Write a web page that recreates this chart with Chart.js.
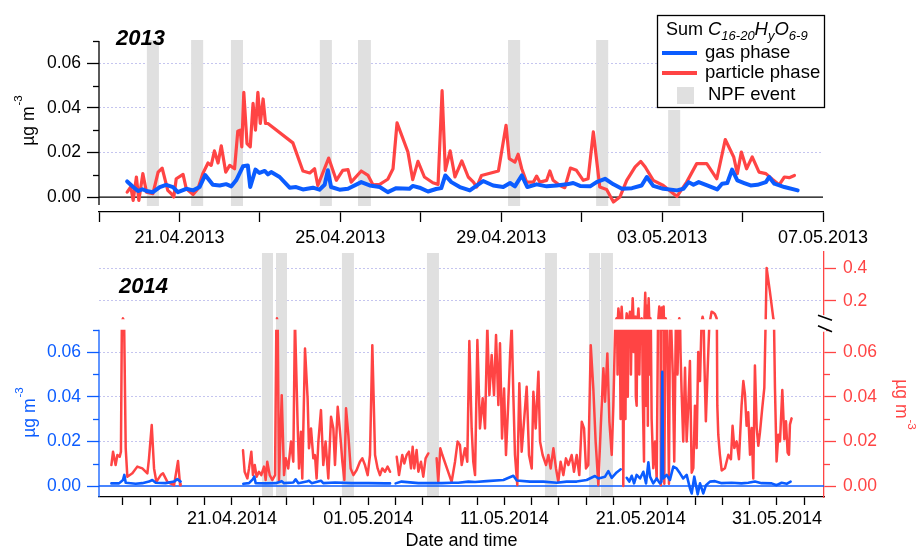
<!DOCTYPE html>
<html>
<head>
<meta charset="utf-8">
<title>Sum C16-20HyO6-9, gas and particle phase</title>
<script src="https://cdn.jsdelivr.net/npm/chart.js@4.4.1/dist/chart.umd.min.js"></script>
<style>
  html, body { margin: 0; padding: 0; background: #fff; }
  .panel { position: absolute; left: 0; }
</style>
</head>
<body>
<canvas id="chart2013" class="panel" width="917" height="250" style="top:0"></canvas>
<canvas id="chart2014" class="panel" width="917" height="298" style="top:250px"></canvas>
<script>
// --- 2013 campaign, x in days since 19.04.2013 00:00 ---
const origin2013 = Date.UTC(2013, 3, 19);
const xLabels2013 = ['21.04.2013', '25.04.2013', '29.04.2013', '03.05.2013', '07.05.2013'];

const gasDays2013 = [0.70, 0.85, 0.97, 1.08, 1.18, 1.34, 1.51, 1.67, 1.84, 1.96, 2.17, 2.34, 2.50, 2.64, 2.83, 3.00,
  3.16, 3.29, 3.41, 3.58, 3.70, 3.76, 3.89, 3.99, 4.12, 4.20, 4.28, 4.49, 4.74, 4.90, 5.07, 5.32, 5.48, 5.61, 5.69,
  5.77, 5.98, 6.19, 6.52, 6.73, 6.98, 7.18, 7.39, 7.72, 7.80, 7.97, 8.18, 8.38, 8.51, 8.61, 8.76, 8.97, 9.22, 9.55,
  9.80, 10.05, 10.22, 10.34, 10.51, 10.65, 10.88, 11.13, 11.38, 11.63, 11.79, 11.96, 12.21, 12.37, 12.58, 12.79,
  13.00, 13.25, 13.49, 13.62, 13.78, 14.03, 14.37, 14.53, 14.66, 14.78, 14.91, 15.12, 15.37, 15.49, 15.62, 15.74,
  15.87, 16.04, 16.20, 16.37, 16.58, 16.66, 16.79, 17.04, 17.37];
const gas2013 = [0.0070, 0.0045, 0.0027, 0.0035, 0.0027, 0.0022, 0.0045, 0.0055, 0.0045, 0.0022, 0.0037, 0.0030,
  0.0045, 0.0099, 0.0055, 0.0052, 0.0058, 0.0048, 0.0075, 0.0138, 0.0142, 0.0045, 0.0123, 0.0108, 0.0117, 0.0102,
  0.0112, 0.0090, 0.0042, 0.0045, 0.0034, 0.0042, 0.0033, 0.0055, 0.0120, 0.0045, 0.0033, 0.0037, 0.0067, 0.0052,
  0.0045, 0.0022, 0.0040, 0.0037, 0.0050, 0.0042, 0.0025, 0.0036, 0.0040, 0.0097, 0.0067, 0.0045, 0.0030, 0.0072,
  0.0052, 0.0045, 0.0063, 0.0048, 0.0097, 0.0045, 0.0057, 0.0048, 0.0052, 0.0057, 0.0063, 0.0050, 0.0048, 0.0067,
  0.0082, 0.0057, 0.0037, 0.0040, 0.0052, 0.0090, 0.0050, 0.0037, 0.0030, 0.0037, 0.0067, 0.0055, 0.0067, 0.0052,
  0.0034, 0.0060, 0.0063, 0.0123, 0.0075, 0.0063, 0.0052, 0.0055, 0.0067, 0.0090, 0.0060, 0.0045, 0.0030];

const particleDays2013 = [0.70, 0.79, 0.85, 0.93, 0.99, 1.09, 1.18, 1.34, 1.47, 1.57, 1.71, 1.80, 1.86, 1.92, 2.09,
  2.17, 2.34, 2.46, 2.58, 2.71, 2.79, 2.87, 2.96, 3.04, 3.15, 3.25, 3.37, 3.45, 3.51, 3.55, 3.60, 3.68, 3.76, 3.83,
  3.89, 3.95, 4.01, 4.08, 4.14, 4.20, 4.82, 5.07, 5.24, 5.36, 5.44, 5.71, 5.90, 6.06, 6.19, 6.27, 6.52, 6.69, 6.81,
  6.98, 7.18, 7.31, 7.41, 7.68, 7.80, 7.93, 8.09, 8.30, 8.43, 8.53, 8.61, 8.73, 8.85, 9.02, 9.18, 9.31, 9.39, 9.51,
  9.93, 10.12, 10.20, 10.34, 10.42, 10.51, 10.63, 10.80, 10.88, 10.96, 11.13, 11.21, 11.29, 11.46, 11.58, 11.72,
  11.87, 12.04, 12.16, 12.29, 12.45, 12.62, 12.79, 12.95, 13.12, 13.33, 13.47, 13.58, 13.78, 14.03, 14.37, 14.61,
  14.86, 15.11, 15.36, 15.57, 15.78, 15.87, 15.97, 16.10, 16.24, 16.41, 16.58, 16.74, 16.91, 17.04, 17.16, 17.29];
const particle2013 = [0.0022, 0.0045, -0.0015, 0.0090, -0.0015, 0.0105, 0.0022, 0.0015, 0.0112, 0.0130, 0.0030,
  0.0015, 0.0000, 0.0082, 0.0102, 0.0037, 0.0012, 0.0037, 0.0105, 0.0153, 0.0142, 0.0207, 0.0153, 0.0230, 0.0112,
  0.0142, 0.0127, 0.0295, 0.0300, 0.0225, 0.0470, 0.0240, 0.0225, 0.0420, 0.0300, 0.0470, 0.0330, 0.0440, 0.0330,
  0.0330, 0.0243, 0.0117, 0.0108, 0.0127, 0.0052, 0.0175, 0.0075, 0.0120, 0.0123, 0.0067, 0.0117, 0.0097, 0.0055,
  0.0057, 0.0080, 0.0127, 0.0333, 0.0202, 0.0078, 0.0160, 0.0090, 0.0064, 0.0057, 0.0477, 0.0120, 0.0207, 0.0090,
  0.0162, 0.0090, 0.0067, 0.0045, 0.0097, 0.0117, 0.0322, 0.0172, 0.0157, 0.0192, 0.0127, 0.0067, 0.0067, 0.0094,
  0.0067, 0.0075, 0.0117, 0.0075, 0.0052, 0.0042, 0.0130, 0.0120, 0.0075, 0.0082, 0.0292, 0.0045, 0.0034, -0.0022,
  0.0000, 0.0075, 0.0135, 0.0160, 0.0135, 0.0075, 0.0052, 0.0003, 0.0067, 0.0150, 0.0150, 0.0082, 0.0258, 0.0180,
  0.0105, 0.0202, 0.0127, 0.0180, 0.0112, 0.0105, 0.0080, 0.0055, 0.0090, 0.0087, 0.0097];

const npfStart2013 = [1.19, 2.29, 3.28, 5.49, 6.44, 10.17, 12.36, 14.15];
const npfEnd2013 = [1.49, 2.59, 3.58, 5.79, 6.76, 10.47, 12.66, 14.45];

// --- 2014 campaign, x in days since 11.04.2014 00:00 (null = no data) ---
const origin2014 = Date.UTC(2014, 3, 11);
const xLabels2014 = ['21.04.2014', '01.05.2014', '11.05.2014', '21.05.2014', '31.05.2014'];

const gasDays2014 = [1.15, 1.71, 2.00, 2.10, 2.20, 2.93, 3.42, 3.91, 4.15, 4.40, 5.13, 5.75, 5.99, 6.23, 8.0,
  10.83, 11.25, 11.54, 11.64, 11.74, 12.47, 13.21, 13.65, 13.82, 14.50, 14.67, 14.87, 15.48, 15.65, 15.85, 16.53,
  16.70, 17.56, 18.78, 20.01, 21.23, 21.60, 21.8, 22.01, 22.45, 23.68, 24.41, 25.39, 26.12, 26.61, 27.35, 27.84,
  28.69, 29.92, 30.65, 30.90, 31.87, 32.85, 33.83, 34.56, 35.30, 36.03, 36.64, 36.89, 37.38, 37.62, 37.87, 38.23,
  38.53, 38.75, 38.97, 39.16, 39.34, 39.51, 39.70, 39.95, 40.19, 40.39, 40.56, 40.68, 40.92, 41.17, 41.41, 41.52,
  41.58, 41.64, 41.90, 42.14, 42.39, 42.63, 42.88, 43.12, 43.37, 43.61, 43.74, 43.93, 44.18, 44.35, 44.59, 44.79,
  45.08, 45.45, 45.94, 46.67, 47.40, 47.89, 48.38, 48.87, 49.61, 49.97, 50.34, 50.71, 51.00];
const gas2014 = [0.0012, 0.0012, 0.0027, 0.0050, 0.0015, 0.0010, 0.0013, 0.0020, 0.0027, 0.0015, 0.0013, 0.0020,
  0.0031, 0.0020, null, 0.0010, 0.0013, 0.0031, 0.0042, 0.0013, 0.0012, 0.0013, 0.0022, 0.0013, 0.0016, 0.0030,
  0.0013, 0.0020, 0.0024, 0.0013, 0.0024, 0.0013, 0.0016, 0.0013, 0.0013, 0.0012, 0.0012, null, 0.0012, 0.0020,
  0.0013, 0.0013, 0.0013, 0.0015, 0.0015, 0.0020, 0.0018, 0.0022, 0.0027, 0.0046, 0.0025, 0.0020, 0.0020, 0.0015,
  0.0020, 0.0020, 0.0027, 0.0045, 0.0034, 0.0042, 0.0067, 0.0037, 0.0061, 0.0075, null, 0.0037, 0.0020, 0.0046,
  0.0012, 0.0050, 0.0034, 0.0064, 0.0012, 0.0106, 0.0042, 0.0012, 0.0034, 0.0012, 0.0020, 0.0512, 0.0034, 0.0050,
  0.0027, 0.0087, 0.0079, 0.0057, 0.0034, 0.0050, -0.0010, -0.0033, 0.0042, -0.0037, 0.0012, -0.0033, 0.0004,
  0.0020, 0.0022, 0.0013, 0.0015, 0.0012, 0.0015, 0.0020, 0.0013, 0.0012, 0.0004, 0.0015, 0.0010, 0.0020];

const particleDays2014 = [1.15, 1.27, 1.46, 1.59, 1.76, 1.85, 1.92, 2.00, 2.08, 2.20, 2.32, 2.69, 3.05, 3.42, 3.79,
  3.91, 4.11, 4.28, 4.45, 4.77, 4.94, 5.26, 5.75, 6.04, 6.19, 6.23, 8.0,
  10.81, 10.93, 11.13, 11.25, 11.42, 11.54, 11.67, 11.81, 11.98, 12.15, 12.35, 12.47, 12.59, 12.77, 12.96, 13.16,
  13.26, 13.30, 13.36, 13.45, 13.65, 13.82, 13.95, 14.13, 14.33, 14.50, 14.62, 14.82, 14.92, 15.06, 15.16, 15.36,
  15.55, 15.65, 15.80, 15.97, 16.09, 16.21, 16.34, 16.53, 16.70, 16.87, 17.07, 17.27, 17.44, 17.56, 17.76, 17.93,
  18.10, 18.25, 18.37, 18.54, 18.71, 18.91, 19.15, 19.39, 19.57, 19.76, 19.96, 20.13, 20.30, 20.50, 20.69, 20.86,
  21.03, 21.23, 21.42, 21.60, 21.8,
  22.09, 22.26, 22.50, 22.65, 22.82, 22.99, 23.14, 23.26, 23.38, 23.55, 23.68, 23.87, 24.04, 24.21, 24.41, 24.7,
  25.02, 25.14, 25.29, 25.44, 26.12, 26.37, 26.56, 26.73, 26.86, 27.10, 27.27, 27.42, 27.59, 27.71, 27.84, 28.01,
  28.20, 28.40, 28.57, 28.74, 28.89, 29.06, 29.23, 29.38, 29.55, 29.67, 29.82, 29.97, 30.11, 30.28, 30.41, 30.53,
  30.65, 30.77, 30.94, 31.09, 31.26, 31.43, 31.63, 31.80, 32.00, 32.12, 32.29, 32.49, 32.61, 32.80, 33.05, 33.22,
  33.39, 33.59, 33.78, 33.95, 34.12, 34.32, 34.51, 34.69, 34.93, 35.10, 35.30, 35.49, 35.67, 35.84, 35.98, 36.15,
  36.33, 36.52, 36.69, 36.89, 37.06, 37.26, 37.38, 37.55, 37.70, 37.87, 37.99, 38.08, 38.16, 38.23, 38.30, 38.36,
  38.45, 38.52, 38.60, 38.66, 38.72, 38.80, 38.88, 38.97, 39.05, 39.13, 39.21, 39.28, 39.35, 39.41, 39.48, 39.58,
  39.64, 39.70, 39.77, 39.83, 39.90, 39.97, 40.07, 40.15, 40.24, 40.33, 40.40, 40.46, 40.52, 40.58, 40.64, 40.71,
  40.80, 40.92, 41.05, 41.17, 41.29, 41.36, 41.45, 41.48, 41.55, 41.62, 41.68, 41.73, 41.83, 41.97, 42.07, 42.15,
  42.22, 42.35, 42.46, 42.58, 42.70, 42.83, 42.92, 43.00, 43.12, 43.25, 43.37, 43.49, 43.61, 43.74, 43.86, 43.98,
  44.10, 44.22, 44.35, 44.47, 44.54, 44.66, 44.78, 44.91, 45.08, 45.20, 45.33, 45.45, 45.57, 45.62, 45.69, 45.81,
  45.94, 46.18, 46.43, 46.62, 46.74, 46.87, 47.04, 47.21, 47.40, 47.53, 47.65, 47.77, 47.89, 48.02, 48.14, 48.26,
  48.38, 48.51, 48.63, 48.75, 48.92, 49.07, 49.17, 49.24, 49.48, 49.73, 49.85, 49.97, 50.10, 50.22, 50.39, 50.54,
  50.66, 50.78, 50.88, 50.95, 51.07];
const particle2014 = [0.0094, 0.0154, 0.0094, 0.0139, 0.0131, 0.0154, 0.075, 0.095, 0.075, 0.0170, 0.0042, 0.0057,
  0.0087, 0.0079, 0.0057, 0.0124, 0.0273, 0.0079, 0.0019, 0.0049, 0.0057, 0.0019, 0.0004, 0.0112, 0.0004, 0.0010, null,
  0.0160, 0.0064, 0.0034, 0.0079, 0.0154, 0.0049, 0.0094, 0.0042, 0.0064, 0.0049, 0.0087, 0.0027, 0.0109, 0.0049,
  0.0027, 0.0049, 0.075, 0.095, 0.070, 0.0019, 0.0407, 0.0049, 0.0124, 0.0079, 0.0199, 0.0109, 0.075, 0.0273,
  0.0079, 0.0243, 0.0034, 0.0616, 0.0393, 0.0169, 0.0258, 0.0124, 0.0139, 0.0034, 0.0199, 0.0340, 0.0094, 0.0199,
  0.0034, 0.0310, 0.0258, 0.0094, 0.0355, 0.0243, 0.0109, 0.0027, 0.0348, 0.0228, 0.0079, 0.0049, 0.0072, 0.0109,
  0.0124, 0.0094, 0.0049, 0.0139, 0.0631, 0.0139, 0.0079, 0.0049, 0.0079, 0.0064, 0.0087, 0.0064, null,
  0.0131, 0.0049, 0.0139, 0.0101, 0.0139, 0.0154, 0.0079, 0.0176, 0.0079, 0.0161, 0.0064, 0.0109, 0.0042, 0.0124,
  0.0146, null,
  0.0124, 0.0019, 0.0169, 0.0139, 0.0019, 0.0109, 0.0199, 0.0184, 0.0094, 0.0169, 0.0109, 0.0649, 0.0258, 0.0109,
  0.0049, 0.0654, 0.0258, 0.0393, 0.0258, 0.072, 0.0407, 0.0587, 0.0407, 0.0676, 0.0363, 0.0639, 0.0213, 0.0437,
  0.0139, 0.0378, 0.0587, 0.072, 0.0407, 0.0139, 0.0004, 0.0460, 0.0154, 0.0288, 0.0445, 0.0139, 0.0079, 0.0422,
  0.0258, 0.0512, 0.0199, 0.0139, 0.0094, 0.0139, 0.0079, 0.0169, 0.0079, 0.0019, 0.0109, 0.0049, 0.0124, 0.0094,
  0.0139, 0.0064, 0.0139, 0.0049, 0.0288, 0.0258, 0.0079, 0.0094, 0.0631, 0.0437, 0.0199, 0.0004, 0.0258, 0.0527,
  0.0378, 0.0594, 0.0288, 0.0139, 0.0360, 0.060, 0.080, 0.095, 0.050, 0.155, 0.080, 0.030, 0.165, 0.070, 0.000,
  0.080, 0.030, 0.125, 0.040, 0.090, 0.135, 0.050, 0.080, 0.216, 0.060, 0.105, 0.040, 0.036, 0.090, 0.155, 0.050,
  0.080, 0.095, 0.040, 0.011, 0.250, 0.036, 0.170, 0.027, 0.216, 0.050, 0.095, 0.030, 0.008, 0.020, 0.003, 0.090,
  0.166, 0.090, 0.0004, 0.160, 0.070, 0.166, 0.001, 0.095, 0.056, 0.001, 0.080, 0.075, 0.050, 0.011, 0.075, 0.050,
  0.095, 0.060, 0.042, 0.020, 0.053, 0.020, 0.036, 0.056, 0.006, 0.008, 0.036, 0.017, 0.060, 0.047, 0.075, 0.105,
  0.058, 0.029, 0.052, 0.080, 0.135, 0.130, 0.120, 0.095, 0.036, 0.023, 0.014, 0.007, 0.008, 0.014, 0.012, 0.027,
  0.017, 0.020, 0.012, 0.036, 0.047, 0.041, 0.027, 0.033, 0.014, 0.026, 0.0034, 0.054, 0.026, 0.018, 0.024, 0.035,
  0.044, 0.075, 0.400, 0.257, 0.095, 0.044, 0.011, 0.023, 0.020, 0.043, 0.021, 0.029, 0.015, 0.014, 0.0275, 0.0303];

const npfStart2014 = [12.20, 13.23, 18.07, 24.31, 32.97, 36.20, 37.08];
const npfEnd2014 = [13.01, 14.04, 18.95, 25.19, 33.85, 37.01, 37.96];

// --- shared axis ticks ---
const yTicks = [0, 0.02, 0.04, 0.06];
const yMinorTicks = [0.01, 0.03, 0.05, 0.07];
const yBreakTicks = [0.2, 0.4];

// axis ranges (upper/lower parts of the broken right axis share one plot area)
const range2013 = { xMin: 0, xMax: 18, yMin: -0.0067, yMax: 0.07, npfFloor: -0.004, axisFloor: -0.0036 };
const range2014 = { xMin: 0.24, xMax: 53.45, lowMin: -0.0049, lowMax: 0.1048, upMin: -0.988, upMax: 0.497,
  breakLow: 0.07, breakHigh: 0.09 };

const blue = '#0b5cff';
const red = '#ff4444';
const npfGrey = '#e0e0e0';
const gridColor = 'rgba(150, 150, 225, 0.55)';
const FONT = '"Liberation Sans", Arial, sans-serif';

Chart.defaults.font.family = FONT;

// --- helpers ---
function dayOf(label, origin) {
    const [d, m, y] = label.split('.').map(Number);
    return (Date.UTC(y, m - 1, d) - origin) / 864e5;
}

function xTicks(labels, origin, min, max, step) {
    const first = dayOf(labels[0], origin);
    const ticks = [];
    for (let v = first - step * Math.floor((first - min) / step); v <= max + 1e-6; v += step) {
        ticks.push({ value: v });
    }
    return ticks;
}

function xLabel(value, labels, origin) {
    return labels.find(l => Math.abs(dayOf(l, origin) - value) < 0.01) || '';
}

function points(days, values) {
    return days.map((d, i) => ({ x: d, y: values[i] }));
}

function minorTicks(ctx, scale, values, dir, color) {
    ctx.save();
    ctx.strokeStyle = color;
    ctx.lineWidth = 1.3;
    const x0 = dir < 0 ? scale.right : scale.left;
    values.forEach(v => {
        const y = Math.round(scale.getPixelForValue(v)) + 0.5;
        ctx.beginPath();
        ctx.moveTo(x0, y);
        ctx.lineTo(x0 + dir * 6, y);
        ctx.stroke();
    });
    ctx.restore();
}

function vLine(ctx, x, y0, y1, color, width) {
    ctx.save();
    ctx.strokeStyle = color;
    ctx.lineWidth = width;
    ctx.beginPath();
    ctx.moveTo(x, y0);
    ctx.lineTo(x, y1);
    ctx.stroke();
    ctx.restore();
}

function hLine(ctx, x0, x1, y, color, width) {
    ctx.save();
    ctx.strokeStyle = color;
    ctx.lineWidth = width;
    ctx.beginPath();
    ctx.moveTo(x0, y);
    ctx.lineTo(x1, y);
    ctx.stroke();
    ctx.restore();
}

function drawUnit(ctx, x, y, angle, color) {
    ctx.save();
    ctx.translate(x, y);
    ctx.rotate(angle);
    ctx.fillStyle = color;
    ctx.textBaseline = 'alphabetic';
    ctx.textAlign = 'left';
    ctx.font = '17.5px ' + FONT;
    const w1 = ctx.measureText('µg m').width;
    ctx.font = '11.5px ' + FONT;
    const w2 = ctx.measureText('-3').width;
    const x0 = -(w1 + w2) / 2;
    ctx.font = '17.5px ' + FONT;
    ctx.fillText('µg m', x0, 0);
    ctx.font = '11.5px ' + FONT;
    ctx.fillText('-3', x0 + w1 + 1, -12);
    ctx.restore();
}

function yearLabel(ctx, text, x, y) {
    ctx.save();
    ctx.fillStyle = '#000';
    ctx.font = 'italic bold 22px ' + FONT;
    ctx.textBaseline = 'alphabetic';
    ctx.fillText(text, x, y);
    ctx.restore();
}

function drawLegend(ctx, chart) {
    const L = 657, T = 15, R = 824, B = 107;
    ctx.save();
    ctx.fillStyle = '#fff';
    ctx.fillRect(L, T, R - L, B - T + 3);
    ctx.strokeStyle = '#000';
    ctx.lineWidth = 1.3;
    ctx.strokeRect(L + 0.5, T + 0.5, R - L, B - T);

    // title: Sum C16-20 Hy O6-9 (italic formula, subscripts)
    const parts = [['Sum ', '', 18, 0], ['C', 'italic ', 18.5, 0], ['16-20', 'italic ', 13, 4.5],
        ['H', 'italic ', 18.5, 0], ['y', 'italic ', 13, 4.5], ['O', 'italic ', 18.5, 0], ['6-9', 'italic ', 13, 4.5]];
    let x = 666;
    ctx.fillStyle = '#000';
    ctx.textBaseline = 'alphabetic';
    parts.forEach(([t, style, size, dy]) => {
        ctx.font = style + size + 'px ' + FONT;
        ctx.fillText(t, x, 35 + dy);
        x += ctx.measureText(t).width;
    });

    const ds = chart.data.datasets;
    ctx.font = '18.5px ' + FONT;
    ctx.lineWidth = 4;
    [[ds[0], 53, 57.5], [ds[1], 73, 77.5]].forEach(([d, ly, by]) => {
        ctx.strokeStyle = d.borderColor;
        ctx.beginPath();
        ctx.moveTo(662, ly);
        ctx.lineTo(697, ly);
        ctx.stroke();
        ctx.fillText(d.label, 705, by);
    });
    ctx.fillStyle = npfGrey;
    ctx.fillRect(677, 87, 17, 17);
    ctx.fillStyle = '#000';
    ctx.fillText('NPF event', 708, 99.5);
    ctx.restore();
}

function drawBands(ctx, xScale, starts, ends, top, bottom) {
    ctx.save();
    ctx.fillStyle = npfGrey;
    starts.forEach((s, i) => {
        const x0 = xScale.getPixelForValue(s);
        const x1 = xScale.getPixelForValue(ends[i]);
        ctx.fillRect(x0, top, x1 - x0, bottom - top);
    });
    ctx.restore();
}

// --- plugins ---
const decor2013 = {
    id: 'decor2013',
    beforeDatasetsDraw(chart) {
        const { ctx, chartArea: a, scales: { x, y } } = chart;
        drawBands(ctx, x, npfStart2013, npfEnd2013, a.top - 1, y.getPixelForValue(range2013.npfFloor));
        hLine(ctx, a.left, a.right, y.getPixelForValue(0), '#000', 1.3);
    },
    afterDraw(chart) {
        const { ctx, chartArea: a, scales: { y } } = chart;
        vLine(ctx, a.left, a.top, y.getPixelForValue(range2013.axisFloor), '#000', 1.3);
        minorTicks(ctx, y, yMinorTicks, -1, '#000');
        drawUnit(ctx, 34, 121, -Math.PI / 2, '#000');
        yearLabel(ctx, '2013', 116, 45);
        drawLegend(ctx, chart);
    }
};

// clip a dataset to its own value band (broken axis)
const bandClip = {
    id: 'bandClip',
    beforeDatasetDraw(chart, args) {
        const ds = chart.data.datasets[args.index];
        if (!ds.band) return;
        const s = chart.scales[ds.yAxisID];
        const a = chart.chartArea;
        const top = s.getPixelForValue(ds.band[1]);
        const bottom = s.getPixelForValue(ds.band[0]);
        chart.ctx.save();
        chart.ctx.beginPath();
        chart.ctx.rect(a.left, top, a.right - a.left, bottom - top);
        chart.ctx.clip();
    },
    afterDatasetDraw(chart, args) {
        if (chart.data.datasets[args.index].band) chart.ctx.restore();
    }
};

const decor2014 = {
    id: 'decor2014',
    beforeDatasetsDraw(chart) {
        const { ctx, chartArea: a, scales: { x, yL } } = chart;
        drawBands(ctx, x, npfStart2014, npfEnd2014, a.top + 1, a.bottom - 1);
        hLine(ctx, a.left, a.right, yL.getPixelForValue(0), blue, 1.5);
    },
    afterDraw(chart) {
        const { ctx, chartArea: a, scales: { yL, yR, yU } } = chart;
        // left axis only spans the lower part
        vLine(ctx, a.left, yL.getPixelForValue(range2014.breakLow), a.bottom, blue, 1.3);
        minorTicks(ctx, yL, yMinorTicks, -1, blue);
        minorTicks(ctx, yR, yMinorTicks, 1, red);

        // axis break on the right
        const yTop = yU.getPixelForValue(range2014.breakHigh);
        const yBot = yR.getPixelForValue(range2014.breakLow);
        const xr = a.right;
        vLine(ctx, xr, yTop - 4, yBot + 2, '#fff', 4);
        ctx.save();
        ctx.strokeStyle = '#000';
        ctx.lineWidth = 1.6;
        ctx.beginPath();
        ctx.moveTo(xr - 6, yTop - 4);
        ctx.lineTo(xr + 8, yTop + 1);
        ctx.moveTo(xr - 6, yBot - 4);
        ctx.lineTo(xr + 8, yBot + 2);
        ctx.stroke();
        ctx.restore();

        drawUnit(ctx, 35, 163, -Math.PI / 2, blue);
        drawUnit(ctx, 896, 154, Math.PI / 2, red);
        yearLabel(ctx, '2014', 119, 43);
    }
};

const common = {
    responsive: false,
    animation: false,
    events: [],
    plugins: { legend: { display: false }, tooltip: { enabled: false } },
    elements: {
        point: { radius: 0 },
        line: { tension: 0, borderJoinStyle: 'round', borderCapStyle: 'round' }
    }
};

function noPad(scale) {
    scale.paddingTop = 0;
    scale.paddingBottom = 0;
    scale.paddingLeft = 0;
    scale.paddingRight = 0;
}

// --- 2013 panel ---
new Chart(document.getElementById('chart2013'), {
    type: 'line',
    data: {
        datasets: [
            { label: 'gas phase', data: points(gasDays2013, gas2013), borderColor: blue, borderWidth: 4 },
            { label: 'particle phase', data: points(particleDays2013, particle2013), borderColor: red, borderWidth: 3.2 }
        ]
    },
    options: {
        ...common,
        layout: { padding: { left: 0, top: 41, right: 94, bottom: 0 } },
        scales: {
            x: {
                type: 'linear', min: range2013.xMin, max: range2013.xMax,
                afterBuildTicks: s => { s.ticks = xTicks(xLabels2013, origin2013, s.min, s.max, 2); },
                afterFit: s => { s.height = 38; noPad(s); },
                ticks: {
                    autoSkip: false, maxRotation: 0, padding: 5, color: '#000', font: { size: 18 },
                    callback: v => xLabel(v, xLabels2013, origin2013)
                },
                grid: { drawOnChartArea: false, tickLength: 10, tickColor: '#000', tickWidth: 1.3 },
                border: { color: '#000', width: 1.3 }
            },
            y: {
                min: range2013.yMin, max: range2013.yMax,
                afterBuildTicks: s => { s.ticks = yTicks.map(v => ({ value: v })); },
                afterFit: s => { s.width = 99; noPad(s); },
                ticks: { padding: 6, color: '#000', font: { size: 17.5 }, callback: v => v.toFixed(2) },
                grid: {
                    color: c => (c.tick && c.tick.value !== 0) ? gridColor : 'transparent',
                    tickLength: 12, tickColor: '#000', tickWidth: 1.3
                },
                border: { display: false, dash: [2, 2] }
            }
        }
    },
    plugins: [decor2013]
});

// --- 2014 panel ---
new Chart(document.getElementById('chart2014'), {
    type: 'line',
    data: {
        datasets: [
            { label: 'gas phase', data: points(gasDays2014, gas2014), yAxisID: 'yL', borderColor: blue, borderWidth: 2.6 },
            { label: 'particle phase', data: points(particleDays2014, particle2014), yAxisID: 'yR',
              borderColor: red, borderWidth: 2.5, band: [range2014.lowMin, range2014.breakLow] },
            { label: 'particle phase', data: points(particleDays2014, particle2014), yAxisID: 'yU',
              borderColor: red, borderWidth: 2.5, band: [range2014.breakHigh, range2014.upMax] }
        ]
    },
    options: {
        ...common,
        layout: { padding: { left: 0, top: 2, right: 0, bottom: 0 } },
        scales: {
            x: {
                type: 'linear', min: range2014.xMin, max: range2014.xMax,
                afterBuildTicks: s => { s.ticks = xTicks(xLabels2014, origin2014, s.min, s.max, 2); },
                afterFit: s => { s.height = 51; noPad(s); },
                ticks: {
                    autoSkip: false, maxRotation: 0, padding: 3.5, color: '#000', font: { size: 18 },
                    callback: v => xLabel(v, xLabels2014, origin2014)
                },
                grid: { drawOnChartArea: false, tickLength: 8, tickColor: '#000', tickWidth: 1.3 },
                border: { color: '#000', width: 1.3 },
                title: { display: true, text: 'Date and time', color: '#000', font: { size: 18, lineHeight: 1 },
                         padding: { top: 0, bottom: -2 } }
            },
            yL: {
                position: 'left', min: range2014.lowMin, max: range2014.lowMax,
                afterBuildTicks: s => { s.ticks = yTicks.map(v => ({ value: v })); },
                afterFit: s => { s.width = 99; noPad(s); },
                ticks: { padding: 6, color: blue, font: { size: 17.5 }, callback: v => v.toFixed(2) },
                grid: {
                    color: c => (c.tick && c.tick.value !== 0) ? gridColor : 'transparent',
                    tickLength: 12, tickColor: blue, tickWidth: 1.3
                },
                border: { display: false, dash: [2, 2] }
            },
            yR: {
                position: 'right', min: range2014.lowMin, max: range2014.lowMax,
                afterBuildTicks: s => {
                    const f = v => range2014.lowMin + (v - range2014.upMin) / (range2014.upMax - range2014.upMin)
                        * (range2014.lowMax - range2014.lowMin);
                    s.ticks = yTicks.map(v => ({ value: v })).concat(yBreakTicks.map(v => ({ value: f(v) })));
                },
                afterFit: s => { s.width = 93; noPad(s); },
                ticks: {
                    padding: 7, color: red, font: { size: 17.5 },
                    callback: (v, i) => i < yTicks.length ? v.toFixed(2) : String(yBreakTicks[i - yTicks.length])
                },
                grid: {
                    color: c => (c.index >= yTicks.length) ? gridColor : 'transparent',
                    tickLength: 12, tickColor: red, tickWidth: 1.3
                },
                border: { color: red, width: 1.3, dash: [2, 2] }
            },
            yU: {
                display: false, position: 'right', min: range2014.upMin, max: range2014.upMax
            }
        }
    },
    plugins: [bandClip, decor2014]
});
</script>
</body>
</html>
